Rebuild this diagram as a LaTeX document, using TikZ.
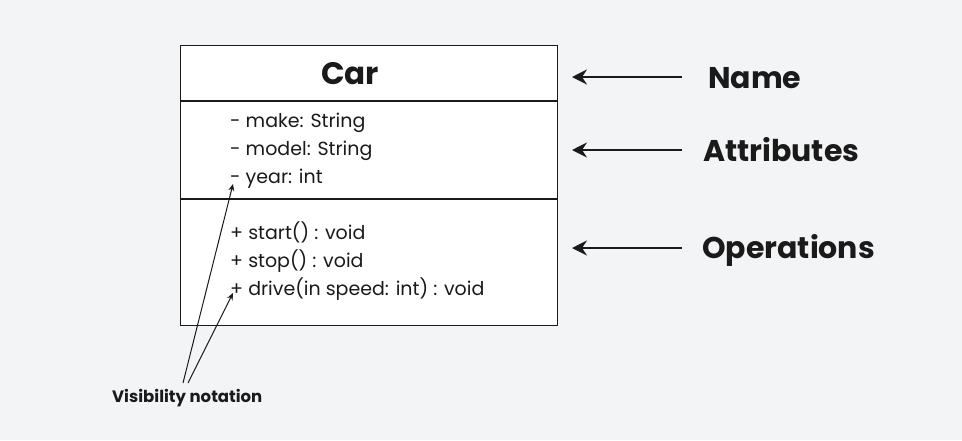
\documentclass[tikz,border=0pt]{standalone}
\usepackage{fontspec}
\setmainfont{Poppins}
\usetikzlibrary{arrows.meta}
\definecolor{bg}{HTML}{F3F4F6}
\definecolor{ink}{HTML}{1A1A1A}
\begin{document}
\begin{tikzpicture}[x=1pt,y=-1pt,
  member/.style={anchor=base west,inner sep=0pt,font=\fontsize{19}{22}\selectfont,text=ink},
  label/.style={anchor=base west,inner sep=0pt,font=\fontsize{30}{34}\selectfont\bfseries,text=ink},
  pointer/.style={draw=ink,line width=2pt,-{Stealth[length=15pt,width=15pt,inset=5pt]}},
  vispointer/.style={draw=ink,line width=1pt,-{Stealth[length=7pt,width=6pt]}}]
\useasboundingbox[fill=bg] (0,0) rectangle (962,440);
\node[draw=ink,fill=white,line width=1.2pt,minimum width=377pt,minimum height=280pt,anchor=north west,inner sep=0pt] (box) at (180,45) {};
\draw[ink,line width=1.2pt] (180,101) -- (557,101);
\draw[ink,line width=1.2pt] (180,199) -- (557,199);
\node[anchor=base,inner sep=0pt,font=\fontsize{31}{35}\selectfont\bfseries,text=ink] (car) at (350,84) {Car};
\node[member] (make) at (230,127) {- make: String};
\node[member] (model) at (230,155) {- model: String};
\node[member] (year) at (230,183) {- year: int};
\node[member] (start) at (230,239) {+ start() : void};
\node[member] (stop) at (230,267) {+ stop() : void};
\node[member] (drive) at (230,295) {+ drive(in speed: int) : void};
\node[label] (name) at (708,88) {Name};
\node[label] (attr) at (703,161) {Attributes};
\node[label] (ops) at (702,258) {Operations};
\coordinate (n1) at (682,77); \coordinate (n2) at (572,77);
\coordinate (a1) at (682,150); \coordinate (a2) at (572,150);
\coordinate (o1) at (682,248); \coordinate (o2) at (572,248);
\draw[pointer] (n1) -- (n2);
\draw[pointer] (a1) -- (a2);
\draw[pointer] (o1) -- (o2);
\node[anchor=base west,inner sep=0pt,font=\fontsize{16.5}{19}\selectfont\bfseries,text=ink] (vis) at (112,402) {Visibility notation};
\coordinate (v1) at (183,383); \coordinate (v2) at (188,383);
\coordinate (t1) at (233,184); \coordinate (t2) at (233,293);
\draw[vispointer] (v1) -- (t1);
\draw[vispointer] (v2) -- (t2);
\end{tikzpicture}
\end{document}
